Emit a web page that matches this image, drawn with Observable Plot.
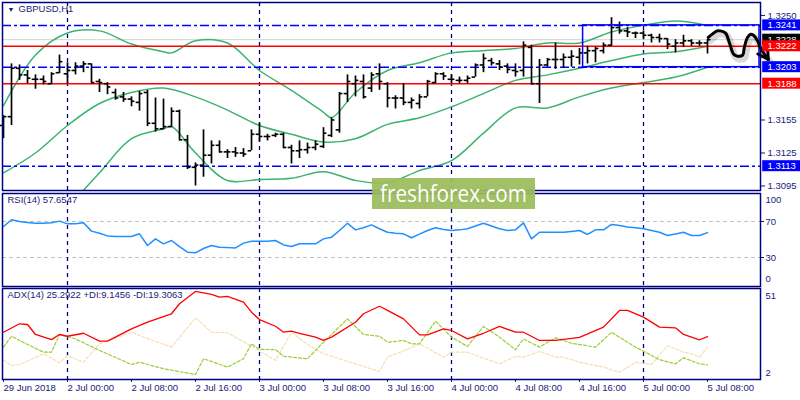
<!DOCTYPE html>
<html><head><meta charset="utf-8">
<script src="https://cdn.jsdelivr.net/npm/d3@7"></script>
<script src="https://cdn.jsdelivr.net/npm/@observablehq/plot@0.6"></script>
<style>
body{margin:0;background:#fff;}
#chart{position:relative;width:800px;height:400px;overflow:hidden;background:#fff;}
</style></head><body><div id="chart"></div>
<script>
// ---------- data ----------
const symbolTitle = "GBPUSD,H1";
const rsiTitle = "RSI(14) 57.6547";
const adxTitle = "ADX(14) 25.2922 +DI:9.1456 -DI:19.3063";
const watermarkText = "freshforex.com";

const timeTickIdx = [0, 8, 16, 24, 32, 40, 48, 56, 64, 72, 80, 88];
const timeTickLabels = ["29 Jun 2018", "2 Jul 00:00", "2 Jul 08:00", "2 Jul 16:00", "3 Jul 00:00", "3 Jul 08:00",
  "3 Jul 16:00", "4 Jul 00:00", "4 Jul 08:00", "4 Jul 16:00", "5 Jul 00:00", "5 Jul 08:00"];
const daySeparators = [8, 32, 56, 80];

const opens = [1.3150,1.3158,1.3202,1.3196,1.3192,1.3192,1.3188,1.3198,1.3197,1.3200,1.3204,1.3206,1.3190,1.3188,1.3180,1.3176,1.3174,1.3171,1.3180,1.3152,1.3147,1.3149,1.3163,1.3137,1.3112,1.3114,1.3123,1.3132,1.3126,1.3126,1.3125,1.3127,1.3142,1.3140,1.3141,1.3142,1.3130,1.3127,1.3128,1.3130,1.3131,1.3141,1.3146,1.3179,1.3188,1.3190,1.3184,1.3197,1.3188,1.3175,1.3175,1.3171,1.3170,1.3176,1.3189,1.3197,1.3192,1.3191,1.3191,1.3194,1.3205,1.3209,1.3206,1.3204,1.3200,1.3200,1.3221,1.3188,1.3205,1.3210,1.3210,1.3212,1.3212,1.3216,1.3218,1.3218,1.3223,1.3239,1.3236,1.3234,1.3234,1.3232,1.3230,1.3229,1.3222,1.3225,1.3227,1.3225,1.3225];
const highs = [1.3159,1.3206,1.3205,1.3200,1.3196,1.3195,1.3198,1.3214,1.3207,1.3207,1.3208,1.3206,1.3192,1.3189,1.3183,1.3180,1.3176,1.3181,1.3182,1.3175,1.3174,1.3166,1.3164,1.3141,1.3116,1.3146,1.3136,1.3136,1.3128,1.3130,1.3129,1.3146,1.3152,1.3142,1.3143,1.3143,1.3132,1.3136,1.3134,1.3136,1.3148,1.3157,1.3180,1.3196,1.3195,1.3196,1.3198,1.3206,1.3189,1.3177,1.3188,1.3175,1.3178,1.3191,1.3198,1.3198,1.3196,1.3194,1.3195,1.3206,1.3215,1.3211,1.3209,1.3206,1.3206,1.3226,1.3223,1.3210,1.3211,1.3225,1.3215,1.3218,1.3220,1.3222,1.3221,1.3225,1.3248,1.3244,1.3239,1.3235,1.3236,1.3233,1.3233,1.3229,1.3228,1.3232,1.3228,1.3227,1.3228];
const lows = [1.3138,1.3150,1.3191,1.3188,1.3183,1.3187,1.3187,1.3197,1.3188,1.3196,1.3198,1.3188,1.3180,1.3178,1.3173,1.3171,1.3167,1.3163,1.3149,1.3144,1.3146,1.3148,1.3136,1.3110,1.3095,1.3103,1.3115,1.3125,1.3120,1.3121,1.3121,1.3127,1.3135,1.3136,1.3139,1.3129,1.3115,1.3120,1.3124,1.3127,1.3129,1.3139,1.3143,1.3171,1.3176,1.3174,1.3180,1.3182,1.3166,1.3165,1.3168,1.3165,1.3165,1.3176,1.3188,1.3191,1.3188,1.3188,1.3188,1.3194,1.3198,1.3204,1.3200,1.3197,1.3194,1.3194,1.3187,1.3170,1.3203,1.3201,1.3202,1.3203,1.3205,1.3206,1.3207,1.3215,1.3222,1.3233,1.3230,1.3229,1.3228,1.3225,1.3225,1.3219,1.3216,1.3221,1.3222,1.3222,1.3215];
const closes = [1.3158,1.3202,1.3196,1.3193,1.3192,1.3190,1.3197,1.3208,1.3200,1.3204,1.3206,1.3189,1.3189,1.3185,1.3175,1.3174,1.3172,1.3179,1.3152,1.3147,1.3149,1.3163,1.3137,1.3112,1.3114,1.3123,1.3132,1.3126,1.3126,1.3125,1.3124,1.3142,1.3140,1.3140,1.3142,1.3130,1.3127,1.3128,1.3130,1.3133,1.3143,1.3155,1.3179,1.3190,1.3191,1.3176,1.3196,1.3190,1.3175,1.3175,1.3171,1.3173,1.3176,1.3190,1.3197,1.3195,1.3192,1.3191,1.3193,1.3205,1.3211,1.3207,1.3203,1.3201,1.3199,1.3223,1.3188,1.3205,1.3210,1.3210,1.3212,1.3213,1.3216,1.3218,1.3220,1.3223,1.3239,1.3236,1.3235,1.3234,1.3232,1.3230,1.3229,1.3224,1.3225,1.3227,1.3225,1.3225,1.3228];

const bbUpperIdx = [0,4,8,12,16,20,21,24,28,32,36,40,41,44,48,52,56,60,64,68,72,76,80,84,88];
const bbUpper = [1.3168,1.3214,1.3234,1.3236,1.3224,1.3217,1.3216,1.3227,1.3225,1.3200,1.3182,1.3162,1.3157,1.3180,1.3200,1.3207,1.3216,1.3218,1.3220,1.3225,1.3225,1.3235,1.3241,1.3245,1.3241];
const bbMiddleIdx = [0,4,8,12,16,20,24,28,32,36,40,44,48,52,56,60,64,68,72,76,80,84,88];
const bbMiddle = [1.3107,1.3125,1.3150,1.3170,1.3180,1.3184,1.3176,1.3164,1.3150,1.3142,1.3135,1.3138,1.3151,1.3157,1.3167,1.3179,1.3191,1.3196,1.3202,1.3209,1.3215,1.3217,1.3222];
const bbLowerIdx = [8,12,16,20,21,24,28,32,36,40,44,48,52,56,60,64,68,72,76,80,84,88];
const bbLower = [1.3075,1.3107,1.3138,1.3147,1.3149,1.3125,1.3100,1.3101,1.3102,1.3108,1.3100,1.3098,1.3109,1.3118,1.3143,1.3166,1.3166,1.3176,1.3184,1.3189,1.3194,1.3203];

const bidPrice = 1.3228;
const redLevels = [1.3222, 1.3188];
const blueLevels = [1.3241, 1.3203, 1.3113];
const priceTicks = [1.3250, 1.3155, 1.3125, 1.3095];
const tagValues = [1.3241, 1.3228, 1.3222, 1.3203, 1.3188, 1.3113];
const tagColors = ["#0000ff", "#000000", "#ff0000", "#0000ff", "#ff0000", "#0000ff"];
const zoneBox = {x1: 72.45, x2: 94.5, lo: 1.3203, hi: 1.3241};

const forecastIdx = [88.1, 89.2, 89.6, 90.25, 90.75, 91.25, 91.75, 92.4, 92.6, 93.0, 93.4, 93.75, 94.25, 94.6, 95.1, 95.6];
const forecastPrice = [1.3230, 1.3236, 1.3236, 1.3234, 1.3225, 1.3215, 1.3213, 1.3214, 1.3221, 1.3230, 1.3233, 1.3232, 1.3227, 1.3221, 1.3215, 1.3210];
const arrowIdx = [94.3, 95.6, 95.5];
const arrowPrice = [1.3215, 1.3210, 1.3221];

const rsiValues = [64.4,72,70,69,68,68,68.5,70.4,67.4,67.5,68.5,59.3,57,54,53.3,53.3,53.3,56.3,43.3,50.7,45.2,48.9,42,35.9,35.2,40,43.3,41.5,41,40.7,46,48.1,48.1,48.1,48.9,44,42.2,45.2,45.2,45.2,50.7,52.6,60,68.1,60.7,63,66.3,62,58.1,57,56.3,51.9,56,60,63,61,60,60.7,62,65,68.1,65,62,60,60.7,68.5,50.7,58.1,58,58,58.1,59,60,55.6,60.7,60.7,66.7,65.5,64,63,61.9,60,58.1,54.4,56,58.1,54.4,54.4,57.65];
const rsiLevels = [70, 30];

const adxIdx = [0,2,3,4,6,7,8,10,12,13,16,18,21,22,24,26,27,28,30,31,32,34,35,36,37,39,40,41,44,45,47,48,50,52,53,55,56,58,60,62,64,65,67,69,72,75,77,78,80,82,84,85,87,88];
const adxMain = [27.8,32.6,32.2,26.5,23.6,26.5,25.5,27.2,22.7,22.7,29.7,33.5,38.3,44,51,49.3,47.8,48.2,44.9,39.2,35,31.2,27.8,28.4,27.2,25,23.1,25,33.5,38.3,42.6,40.2,35.4,26.3,26.3,29.7,28.8,24,27.2,31.1,27.8,27.8,23.1,23.1,24.9,30.7,40.2,40.2,36.4,30.7,30.3,26.5,23.5,25.29];
const plusDiIdx = [0,1,2,5,6,7,9,12,16,17,20,24,25,28,30,31,32,34,35,38,40,43,45,47,48,50,51,52,54,56,58,60,62,64,65,67,69,71,74,76,79,80,82,84,85,87,88];
const plusDi = [19.3,25.5,23.1,16.4,16.4,26.5,24,17.4,9.4,10.7,7,3.7,12.7,7.9,12.7,21.2,18,17.9,14.1,12.7,22.1,35.4,26.5,25.5,22.1,23.1,21.2,21.2,34.1,25,19.7,31.1,25,17.8,24,19.3,24.6,21.5,19.3,27.8,19.3,17,12.1,9.8,13.2,9.8,9.15];
const minusDiIdx = [0,1,2,5,7,8,10,12,16,17,21,24,26,28,31,34,36,38,40,44,47,48,50,52,55,56,58,62,64,65,67,69,70,72,75,77,79,81,83,85,86,87,88];
const minusDi = [11.7,8.8,9.4,15.5,10.4,14.5,10.7,21.2,27.8,25.9,19.3,36,27.8,27.5,19.8,11.7,27.8,20.8,15.5,9.8,5.4,13.6,17.2,21.2,13.6,16.4,16.4,9.8,14,13.6,16.8,13.6,13.6,10.7,7.9,5,10.7,9.4,20.2,16.4,15.5,13.6,19.31];
const adxTicks = [51, 2];

// ---------- tables built from the arrays ----------
const bars = opens.map((o, i) => ({i, o, h: highs[i], l: lows[i], c: closes[i]}));
const pts = (idx, vals) => idx.map((i, k) => ({i, v: vals[k]}));
const upperPts = pts(bbUpperIdx, bbUpper);
const middlePts = pts(bbMiddleIdx, bbMiddle);
const lowerPts = pts(bbLowerIdx, bbLower);
const forecastPts = pts(forecastIdx, forecastPrice);
const arrowPts = pts(arrowIdx, arrowPrice);
const rsiPts = rsiValues.map((v, i) => ({i, v}));
const adxPts = pts(adxIdx, adxMain);
const plusPts = pts(plusDiIdx, plusDi);
const minusPts = pts(minusDiIdx, minusDi);
const tags = tagValues.map((v, k) => ({v, color: tagColors[k]}));

// ---------- drawing ----------
const chart = document.getElementById("chart");
const ink = "#1a1a78";
const frameColor = "#00007f";
const style = {fontFamily: '"Liberation Sans", Arial, sans-serif', fontSize: "9.5px", color: ink, background: "transparent", overflow: "visible"};
const xDom = [-0.125, 94.625];
const sepMark = () => Plot.ruleX(daySeparators, {stroke: "#000080", strokeWidth: 1.3, strokeDasharray: "4,4"});

function place(svg, top) {
  svg.style.position = "absolute";
  svg.style.left = "0px";
  svg.style.top = top + "px";
  chart.appendChild(svg);
}

const main = Plot.plot({
  width: 800, height: 192, marginLeft: 2, marginRight: 40, marginTop: 2, marginBottom: 2,
  x: {domain: xDom, axis: null},
  y: {domain: [1.30909, 1.32618], axis: null},
  style,
  marks: [
    Plot.ruleY([bidPrice], {stroke: "#d2d2d2"}),
    sepMark(),
    Plot.line(upperPts, {x: "i", y: "v", stroke: "#3cb371", curve: "catmull-rom", clip: true}),
    Plot.line(middlePts, {x: "i", y: "v", stroke: "#3cb371", curve: "catmull-rom", clip: true}),
    Plot.line(lowerPts, {x: "i", y: "v", stroke: "#3cb371", curve: "catmull-rom", clip: true}),
    Plot.ruleY(redLevels, {stroke: "#ff0000", strokeWidth: 1.5}),
    Plot.ruleY(blueLevels, {stroke: "#0000ff", strokeWidth: 1.5, strokeDasharray: "9,3,3,3"}),
    Plot.ruleX(bars, {x: "i", y1: "l", y2: "h", stroke: "#000", strokeWidth: 1.7}),
    Plot.ruleY(bars, {y: "o", x1: d => d.i - 0.42, x2: "i", stroke: "#000", strokeWidth: 1.6}),
    Plot.ruleY(bars, {y: "c", x1: "i", x2: d => d.i + 0.42, stroke: "#000", strokeWidth: 1.6}),
    Plot.rect([zoneBox], {x1: "x1", x2: "x2", y1: "lo", y2: "hi", stroke: "#0000ff", strokeWidth: 1.5, fill: "none"}),
    Plot.line(forecastPts, {x: "i", y: "v", stroke: "#000", strokeOpacity: 0.15, strokeWidth: 7, dx: 2, dy: 3, curve: "catmull-rom"}),
    Plot.line(forecastPts, {x: "i", y: "v", stroke: "#000", strokeWidth: 3, curve: "catmull-rom", strokeLinecap: "round"}),
    Plot.line(arrowPts, {x: "i", y: "v", stroke: "#000", strokeWidth: 3, strokeLinecap: "round", strokeLinejoin: "round"}),
    Plot.text(["▼"], {frameAnchor: "top-left", dx: 5, dy: 5, textAnchor: "start", lineAnchor: "top", fontSize: 7, fill: ink}),
    Plot.text([symbolTitle], {frameAnchor: "top-left", dx: 16, dy: 3, textAnchor: "start", lineAnchor: "top", fill: ink}),
    Plot.axisY(priceTicks, {anchor: "right", label: null, tickSize: 4, tickPadding: 3, tickFormat: d => d.toFixed(4)}),
    Plot.frame({stroke: frameColor, strokeWidth: 1.5}),
    ...tags.flatMap(t => [
      Plot.rect([t], {x1: () => 94.9, x2: () => 99.8, y1: d => d.v - 0.0005, y2: d => d.v + 0.0005, fill: t.color}),
      Plot.text([t], {x: () => 95.5, y: "v", text: d => d.v.toFixed(4), fill: "#fff", textAnchor: "start"})
    ])
  ]
});
place(main, 0);

const rsiPlot = Plot.plot({
  width: 800, height: 95, marginLeft: 2, marginRight: 40, marginTop: 1, marginBottom: 1,
  x: {domain: xDom, axis: null},
  y: {domain: [-2.2, 101.1], axis: null},
  style,
  marks: [
    Plot.ruleY(rsiLevels, {stroke: "#c0c0c0", strokeDasharray: "4,3"}),
    sepMark(),
    Plot.line(rsiPts, {x: "i", y: "v", stroke: "#1e90ff"}),
    Plot.text([rsiTitle], {frameAnchor: "top-left", dx: 5, dy: 3, textAnchor: "start", lineAnchor: "top", fill: ink}),
    Plot.axisY(rsiLevels, {anchor: "right", label: null, tickSize: 3, tickPadding: 2}),
    Plot.text([100], {frameAnchor: "right", y: d => d, dx: 5, dy: 5, textAnchor: "start", text: d => String(d), fill: ink}),
    Plot.text([0], {frameAnchor: "right", y: d => d, dx: 5, dy: -6, textAnchor: "start", text: d => String(d), fill: ink}),
    Plot.frame({stroke: frameColor, strokeWidth: 1.5})
  ]
});
place(rsiPlot, 192);

const adxPlot = Plot.plot({
  width: 800, height: 113, marginLeft: 2, marginRight: 40, marginTop: 1, marginBottom: 21,
  x: {domain: xDom, axis: null},
  y: {domain: [0.86, 52.7], axis: null},
  style,
  marks: [
    sepMark(),
    Plot.line(minusPts, {x: "i", y: "v", stroke: "#f5deb3", strokeWidth: 1.2, strokeDasharray: "3,2"}),
    Plot.line(plusPts, {x: "i", y: "v", stroke: "#9acd32", strokeWidth: 1.2, strokeDasharray: "3,2"}),
    Plot.line(adxPts, {x: "i", y: "v", stroke: "#ff0000", strokeWidth: 1.3}),
    Plot.text([adxTitle], {frameAnchor: "top-left", dx: 5, dy: 3, textAnchor: "start", lineAnchor: "top", fill: ink}),
    Plot.text([adxTicks[0]], {frameAnchor: "right", y: d => d, dx: 5, dy: 4, textAnchor: "start", text: d => String(d), fill: ink}),
    Plot.text([adxTicks[1]], {frameAnchor: "right", y: d => d, dx: 5, dy: -5, textAnchor: "start", text: d => String(d), fill: ink}),
    Plot.axisX(timeTickIdx, {anchor: "bottom", label: null, tickSize: 3, tickPadding: 2, textAnchor: "start",
      tickFormat: d => timeTickLabels[timeTickIdx.indexOf(d)]}),
    Plot.frame({stroke: frameColor, strokeWidth: 1.5})
  ]
});
place(adxPlot, 287);

// watermark
const wm = d3.select(chart).append("svg")
  .attr("width", 163).attr("height", 31)
  .style("position", "absolute").style("left", "372px").style("top", "178px").style("overflow", "visible");
wm.append("rect").attr("width", 163).attr("height", 31).attr("fill", "#9bbb59").attr("opacity", 0.93);
wm.append("text").attr("x", 8).attr("y", 24).attr("textLength", 147).attr("lengthAdjust", "spacingAndGlyphs")
  .attr("font-family", '"Open Sans", "DejaVu Sans", sans-serif').attr("font-size", 23).attr("fill", "#fff")
  .text(watermarkText);
</script>
</body></html>
